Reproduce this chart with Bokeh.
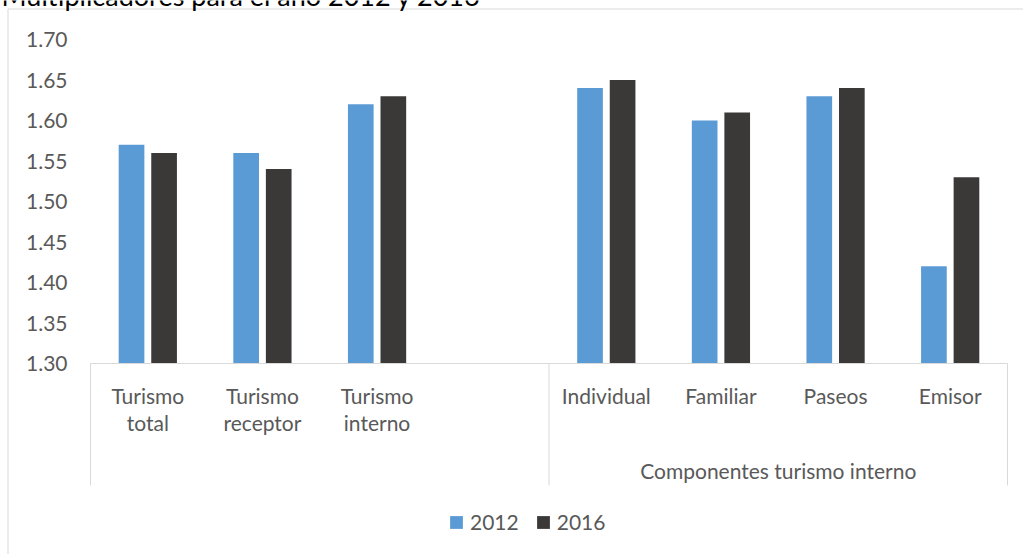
import numpy as np
from bokeh.plotting import figure
from bokeh.models import (Range1d, ColumnDataSource, Legend, LegendItem,
                          GlobalInlineStyleSheet)
from bokeh.core.properties import value
from bokeh.embed import file_html
from bokeh.resources import INLINE

# ---------------- data ----------------
title_text = "Multiplicadores para el año 2012 y 2016"
categories = ["Turismo\ntotal", "Turismo\nreceptor", "Turismo\ninterno", "",
              "Individual", "Familiar", "Paseos", "Emisor"]
values_2012 = [1.57, 1.56, 1.62, np.nan, 1.64, 1.60, 1.63, 1.42]
values_2016 = [1.56, 1.54, 1.63, np.nan, 1.65, 1.61, 1.64, 1.53]
series_names = ["2012", "2016"]
groups = ["", "Componentes turismo interno"]
group_sizes = [4, 4]
y_ticks = [1.30, 1.35, 1.40, 1.45, 1.50, 1.55, 1.60, 1.65, 1.70]
y_min, y_max = 1.30, 1.70

# ---------------- layout (pixels) ----------------
W, H = 1023, 554
X0, X1 = 90.0, 1007.0          # plot area left / right
YT, YB = 39.0, 363.0           # pixel of y_max / y_min
CW = (X1 - X0) / len(categories)
PPU = (YB - YT) / (y_max - y_min)


def X(px):
    return (px - X0) / CW


def Y(px):
    return y_min + (YB - px) / PPU


FONT = value("Lato")
TXT = "#595959"
GRID = "#D9D9D9"
BLUE = "#5B9BD5"
DARK = "#3B3838"

p = figure(width=W, height=H,
           x_range=Range1d(X(0), X(W)), y_range=Range1d(Y(H), Y(0)),
           x_axis_type=None, y_axis_type=None,
           min_border=0, min_border_left=0, min_border_right=0,
           min_border_top=0, min_border_bottom=0,
           toolbar_location=None, output_backend="svg",
           outline_line_color=None, background_fill_color="white",
           border_fill_color="white")
p.grid.visible = False
p.stylesheets = [GlobalInlineStyleSheet(
    css="html, body { margin: 0 !important; padding: 0; overflow: hidden; }")]

# chart area border (top and left edges visible)
p.line([X(7.5), X(W + 20)], [Y(8.5), Y(8.5)], line_color=GRID, line_width=1)
p.line([X(7.5), X(7.5)], [Y(8.5), Y(H + 20)], line_color=GRID, line_width=1)

# title (partly outside the window, as in the reference)
p.text(x=[X(1)], y=[Y(-5)], text=[title_text], text_font=FONT,
       text_font_size="27px", text_color="#000000",
       text_align="left", text_baseline="alphabetic")

# bars
n = len(categories)
centers = np.arange(n) + 0.5
offset, bw = 0.142, 0.224
src1 = ColumnDataSource(dict(x=centers - offset, top=values_2012))
src2 = ColumnDataSource(dict(x=centers + offset, top=values_2016))
r1 = p.vbar(x="x", top="top", bottom=y_min, width=bw, source=src1,
            fill_color=BLUE, line_color=None)
r2 = p.vbar(x="x", top="top", bottom=y_min, width=bw, source=src2,
            fill_color=DARK, line_color=None)

# category axis line and group separators
p.line([0, n], [y_min, y_min], line_color=GRID, line_width=1)
bounds = np.concatenate([[0], np.cumsum(group_sizes)])
p.segment(x0=bounds, x1=bounds, y0=[y_min] * len(bounds),
          y1=[Y(485)] * len(bounds), line_color=GRID, line_width=1)

# y tick labels
p.text(x=[X(67)] * len(y_ticks), y=y_ticks,
       text=[f"{t:.2f}" for t in y_ticks], text_font=FONT,
       text_font_size="21px", text_color=TXT,
       text_align="right", text_baseline="middle")

# category labels
p.text(x=centers, y=[Y(382)] * n, text=categories, text_font=FONT,
       text_font_size="21px", text_color=TXT, text_align="center",
       text_baseline="top", text_line_height=1.1)

# group labels
gcent = (bounds[:-1] + bounds[1:]) / 2
p.text(x=gcent, y=[Y(470)] * len(groups), text=groups, text_font=FONT,
       text_font_size="21px", text_color=TXT, text_align="center",
       text_baseline="middle")

# legend
legend = Legend(items=[LegendItem(label=series_names[0], renderers=[r1]),
                       LegendItem(label=series_names[1], renderers=[r2])],
                orientation="horizontal", location=(448, H - 534),
                border_line_color=None, background_fill_alpha=0,
                padding=0, margin=0, glyph_width=16, glyph_height=16,
                label_standoff=6, spacing=16,
                label_text_font="Lato", label_text_font_size="21px",
                label_text_color=TXT)
p.add_layout(legend)

open("out.html", "w").write(file_html(p, INLINE))
